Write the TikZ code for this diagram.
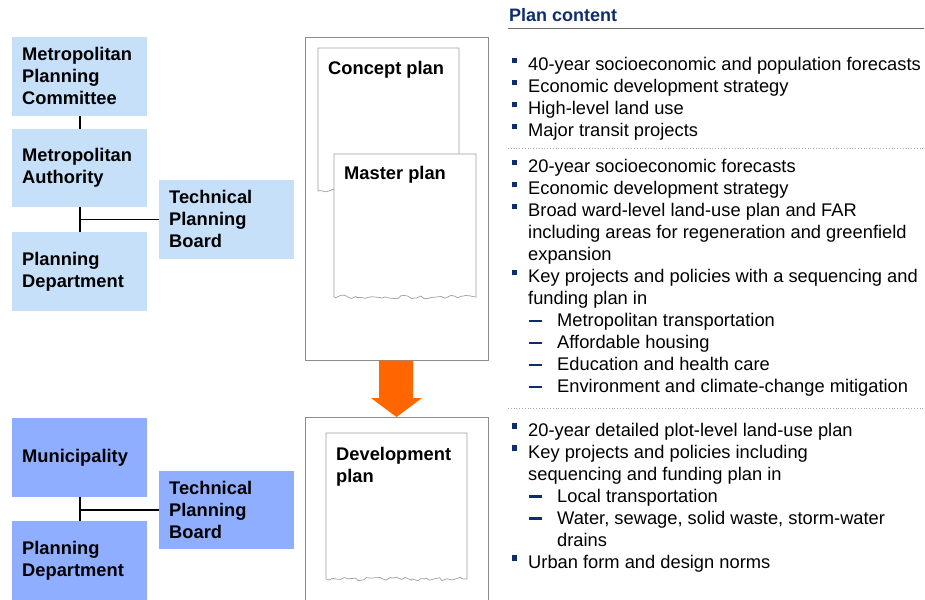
\documentclass[tikz,border=0pt]{standalone}
\usepackage{fontspec}
\setmainfont{Liberation Sans}
\usetikzlibrary{decorations.pathmorphing}
\definecolor{lightbox}{RGB}{198,224,250}
\definecolor{darkbox}{RGB}{143,174,255}
\definecolor{navy}{RGB}{14,45,110}
\definecolor{arroworange}{RGB}{255,102,0}
\definecolor{framegray}{RGB}{140,140,140}
\begin{document}
\begin{tikzpicture}[x=1pt,y=-1pt,
  orgbox/.style={anchor=north west, minimum height=78.5, text width=115, inner xsep=10, inner ysep=0,
     align=left, font=\fontsize{18.3}{22}\selectfont\bfseries},
  lbox/.style={orgbox, fill=lightbox},
  dbox/.style={orgbox, fill=darkbox},
  conn/.style={line width=1.8pt, black},
  frame/.style={draw=framegray, line width=0.9pt, fill=white},
  page/.style={draw=gray!75, line width=0.7pt, fill=white},
  torn/.style={decoration={random steps, segment length=3.5pt, amplitude=1.8pt}},
  doctitle/.style={anchor=base west, inner sep=0, align=left, font=\fontsize{18.3}{22}\selectfont\bfseries},
  ptxt/.style={anchor=base west, inner sep=0, font=\fontsize{18.3}{22}\selectfont},
  bul/.style={fill=navy, minimum size=5.5pt, inner sep=0},
  dsh/.style={fill=navy, minimum width=13pt, minimum height=2.2pt, inner sep=0},
  sep/.style={draw=gray!70, line width=0.8pt, dotted},
]
\useasboundingbox (0,0) rectangle (925,599);
\clip (0,0) rectangle (925,599);
\pgfmathsetseed{7}

% ---------- left organisation boxes (top) ----------
\node[lbox] (mpc) at (12,37) {Metropolitan\\Planning\\Committee};
\node[lbox] (ma)  at (12,128.5) {Metropolitan\\Authority};
\node[lbox] (pd)  at (12,232) {Planning\\Department};
\node[lbox] (tpb) at (159,180) {Technical\\Planning\\Board};
\draw[conn] (mpc.south) -- (ma.north);
\draw[conn] (ma.south) -- (pd.north);
\draw[conn] (tpb.west) -- (tpb.west -| ma.south);

% ---------- left organisation boxes (bottom) ----------
\node[dbox] (mun) at (12,418) {Municipality};
\node[dbox] (pd2) at (12,521) {Planning\\Department};
\node[dbox] (tpb2) at (159,470.5) {Technical\\Planning\\Board};
\draw[conn] (mun.south) -- (pd2.north);
\draw[conn] (tpb2.west) -- (tpb2.west -| mun.south);

% ---------- plan frames ----------
\draw[frame] (305,37) rectangle (488,360);
\draw[page,torn] (318,48) -- (318,191) decorate {-- (459,191)} -- (459,48) -- cycle;
\node[doctitle] (concept) at (328,75) {Concept plan};
\draw[page,torn] (334,154) -- (334,297) decorate {-- (476,297)} -- (476,154) -- cycle;
\node[doctitle] (master) at (344,179) {Master plan};

\draw[frame] (305,417) rectangle (488,620);
\draw[page,torn] (326,433) -- (326,579) decorate {-- (467,579)} -- (467,433) -- cycle;
\node[doctitle] (devel) at (336,482) {Development\\plan};

% orange arrow
\fill[arroworange] (379,360.5) -- (413,360.5) -- (413,398) -- (422,398) -- (396.5,417) -- (371,398) -- (379,398) -- cycle;

% ---------- plan content ----------
\node[anchor=base west, inner sep=0, text=navy, font=\fontsize{18}{20}\selectfont\bfseries] (title) at (509,21.5) {Plan content};
\draw[draw=gray!85!black, line width=1pt] (508,29) -- (924,29);

% section 1
\node[bul] (b11) at (514.5,60.5) {};
\node[ptxt] (t11) at (528,70.5) {40-year socioeconomic and population forecasts};
\node[bul] (b12) at (514.5,82.5) {};
\node[ptxt] (t12) at (528,92.5) {Economic development strategy};
\node[bul] (b13) at (514.5,104.5) {};
\node[ptxt] (t13) at (528,114.5) {High-level land use};
\node[bul] (b14) at (514.5,126.5) {};
\node[ptxt] (t14) at (528,136.5) {Major transit projects};
\draw[sep] (508,148) -- (924,148);

% section 2
\node[bul] (b21) at (514.5,162.7) {};
\node[ptxt] (t21) at (528,172.7) {20-year socioeconomic forecasts};
\node[bul] (b22) at (514.5,184.7) {};
\node[ptxt] (t22) at (528,194.7) {Economic development strategy};
\node[bul] (b23) at (514.5,206.7) {};
\node[ptxt] (t23) at (528,216.7) {Broad ward-level land-use plan and FAR};
\node[ptxt] (t23b) at (528,238.7) {including areas for regeneration and greenfield};
\node[ptxt] (t23c) at (528,260.7) {expansion};
\node[bul] (b24) at (514.5,272.7) {};
\node[ptxt] (t24) at (528,282.7) {Key projects and policies with a sequencing and};
\node[ptxt] (t24b) at (528,304.7) {funding plan in};
\node[dsh] (d21) at (535,321.2) {};
\node[ptxt] (s21) at (557,326.7) {Metropolitan transportation};
\node[dsh] (d22) at (535,343.2) {};
\node[ptxt] (s22) at (557,348.7) {Affordable housing};
\node[dsh] (d23) at (535,365.2) {};
\node[ptxt] (s23) at (557,370.7) {Education and health care};
\node[dsh] (d24) at (535,387.2) {};
\node[ptxt] (s24) at (557,392.7) {Environment and climate-change mitigation};
\draw[sep] (508,408.5) -- (924,408.5);

% section 3
\node[bul] (b31) at (514.5,426) {};
\node[ptxt] (t31) at (528,436) {20-year detailed plot-level land-use plan};
\node[bul] (b32) at (514.5,448) {};
\node[ptxt] (t32) at (528,458) {Key projects and policies including};
\node[ptxt] (t32b) at (528,480) {sequencing and funding plan in};
\node[dsh] (d31) at (535,496.5) {};
\node[ptxt] (s31) at (557,502) {Local transportation};
\node[dsh] (d32) at (535,518.5) {};
\node[ptxt] (s32) at (557,524) {Water, sewage, solid waste, storm-water};
\node[ptxt] (s32b) at (557,546) {drains};
\node[bul] (b33) at (514.5,558) {};
\node[ptxt] (t33) at (528,568) {Urban form and design norms};
\end{tikzpicture}
\end{document}
